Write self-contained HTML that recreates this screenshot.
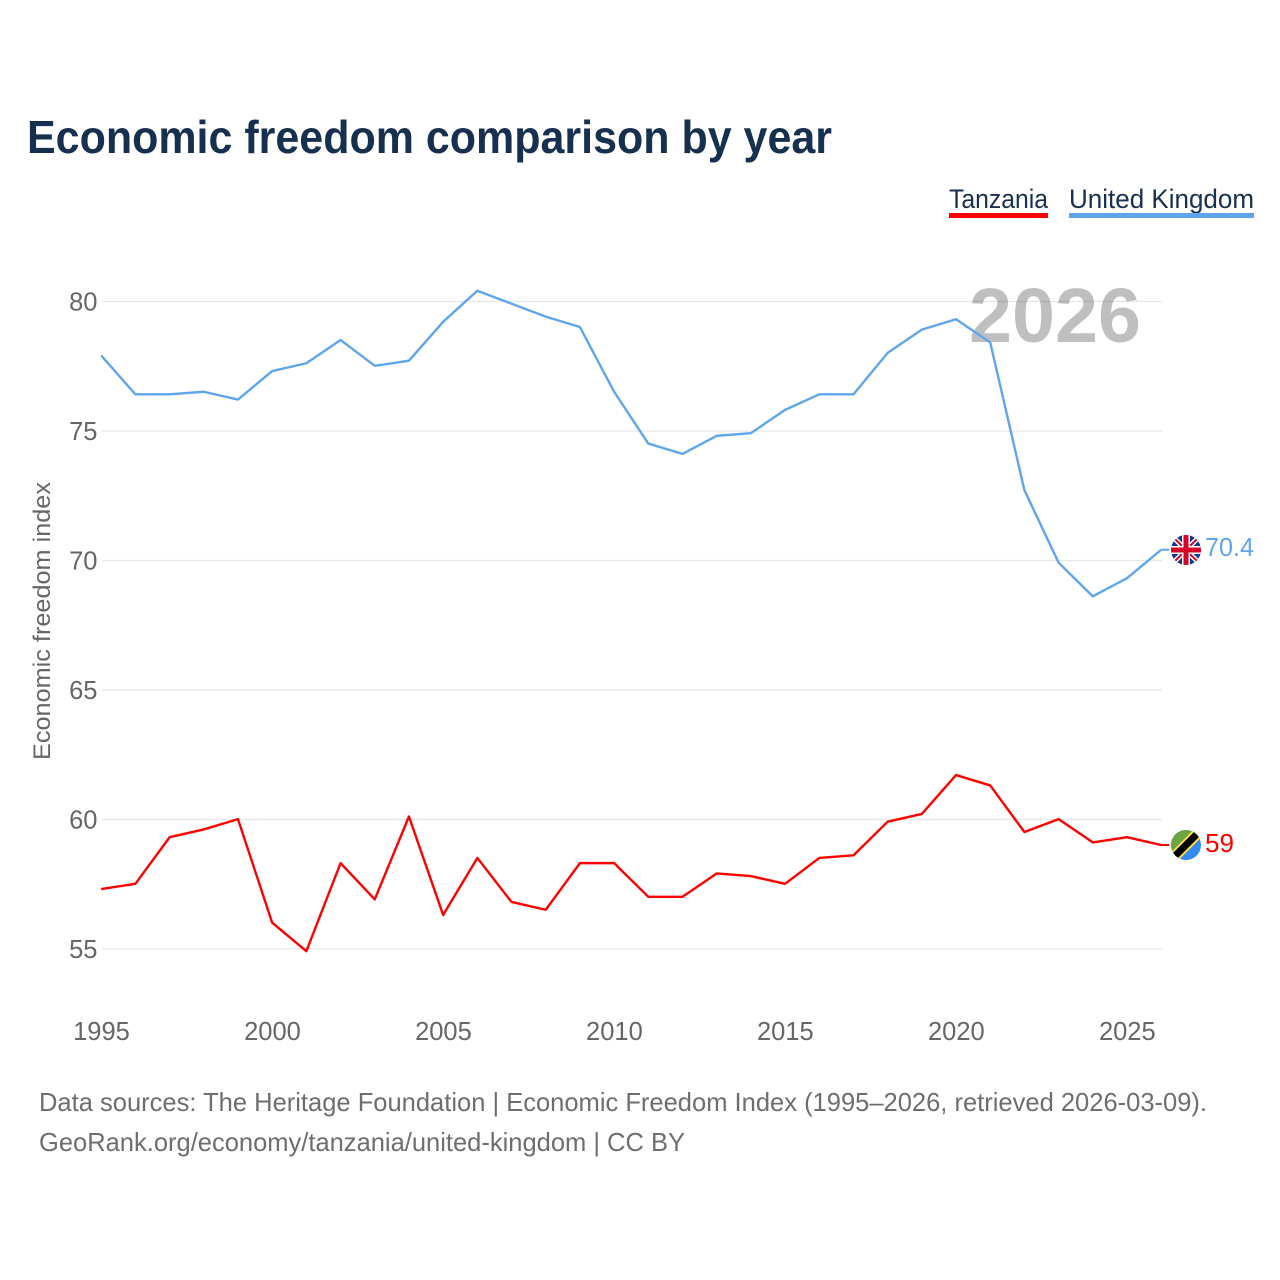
<!DOCTYPE html>
<html lang="en">
<head>
<meta charset="utf-8">
<title>Economic freedom comparison by year</title>
<style>
html,body{margin:0;padding:0;background:#fff;width:1280px;height:1280px;overflow:hidden}
svg{display:block}
text{font-family:"Liberation Sans",sans-serif}
</style>
</head>
<body>
<svg id="chart" width="1280" height="1280" viewBox="0 0 1280 1280" xmlns="http://www.w3.org/2000/svg">
  <rect width="1280" height="1280" fill="#fff"/>
  <text x="27" y="153" font-size="46" font-weight="700" fill="#18304f" textLength="805" lengthAdjust="spacingAndGlyphs">Economic freedom comparison by year</text>

  <g>
    <text x="949" y="208" font-size="27" fill="#18304f" textLength="99" lengthAdjust="spacingAndGlyphs">Tanzania</text>
    <rect x="949" y="213" width="99" height="5" fill="#ff0000"/>
  </g>
  <g>
    <text x="1069" y="208" font-size="27" fill="#18304f" textLength="185" lengthAdjust="spacingAndGlyphs">United Kingdom</text>
    <rect x="1069" y="213" width="185" height="5" fill="#5fa5ec"/>
  </g>

  <g id="grid"></g>
  <text x="1055" y="342" text-anchor="middle" font-size="77" font-weight="700" fill="#000" fill-opacity="0.25" textLength="172" lengthAdjust="spacingAndGlyphs">2026</text>
  <g id="yticks"></g>
  <g id="xticks"></g>
  <text transform="translate(50 621) rotate(-90)" text-anchor="middle" font-size="24" fill="#666" textLength="278" lengthAdjust="spacingAndGlyphs">Economic freedom index</text>
  <g id="series" transform="translate(-0.8 -0.4)"></g>

  <defs>
    <clipPath id="uk-clip"><circle cx="1186" cy="550" r="15"/></clipPath>
    <clipPath id="tz-clip"><circle cx="1186" cy="845" r="15"/></clipPath>
  </defs>
  <g id="uk-flag" clip-path="url(#uk-clip)">
    <rect x="1171" y="535" width="30" height="30" fill="#0a3a8c"/>
    <path d="M1171 535L1201 565M1201 535L1171 565" stroke="#fff" stroke-width="5"/>
    <path d="M1171 535L1201 565M1201 535L1171 565" stroke="#d80027" stroke-width="2"/>
    <path d="M1186 535V565M1171 550H1201" stroke="#fff" stroke-width="8"/>
    <path d="M1186 535V565M1171 550H1201" stroke="#d80027" stroke-width="5"/>
  </g>
  <g id="tz-flag" clip-path="url(#tz-clip)">
    <rect x="1171" y="830" width="30" height="30" fill="#338af3"/>
    <path d="M1171 830H1201L1171 860Z" fill="#6da544"/>
    <path d="M1171 860L1201 830" stroke="#ffda44" stroke-width="11"/>
    <path d="M1171 860L1201 830" stroke="#000" stroke-width="7"/>
  </g>
  <text x="1205" y="556" font-size="26" fill="#5fa5ec" textLength="49" lengthAdjust="spacingAndGlyphs">70.4</text>
  <text x="1205" y="852" font-size="26" fill="#ff0000" textLength="29" lengthAdjust="spacingAndGlyphs">59</text>

  <text x="39" y="1111" font-size="26" fill="#6e6e6e" textLength="1168" lengthAdjust="spacingAndGlyphs">Data sources: The Heritage Foundation | Economic Freedom Index (1995–2026, retrieved 2026-03-09).</text>
  <text x="39" y="1151" font-size="26" fill="#6e6e6e" textLength="646" lengthAdjust="spacingAndGlyphs">GeoRank.org/economy/tanzania/united-kingdom | CC BY</text>
</svg>
<script>
const years = [1995,1996,1997,1998,1999,2000,2001,2002,2003,2004,2005,2006,2007,2008,2009,2010,2011,2012,2013,2014,2015,2016,2017,2018,2019,2020,2021,2022,2023,2024,2025,2026];
const ukValues = [77.9,76.4,76.4,76.5,76.2,77.3,77.6,78.5,77.5,77.7,79.2,80.4,79.9,79.4,79.0,76.5,74.5,74.1,74.8,74.9,75.8,76.4,76.4,78.0,78.9,79.3,78.4,72.7,69.9,68.6,69.3,70.4];
const tzValues = [57.3,57.5,59.3,59.6,60.0,56.0,54.9,58.3,56.9,60.1,56.3,58.5,56.8,56.5,58.3,58.3,57.0,57.0,57.9,57.8,57.5,58.5,58.6,59.9,60.2,61.7,61.3,59.5,60.0,59.1,59.3,59.0];
const yTickValues = [55,60,65,70,75,80];
const xTickValues = [1995,2000,2005,2010,2015,2020,2025];

const NS = 'http://www.w3.org/2000/svg';
const xScale = y => 102 + (y - 1995) * (1162 - 102) / 31;
const yScale = v => 949 - (v - 55) * (949 - 301.5) / 25;

function make(tag, attrs, parent, text) {
  const el = document.createElementNS(NS, tag);
  for (const k in attrs) el.setAttribute(k, attrs[k]);
  if (text !== undefined) el.textContent = text;
  parent.appendChild(el);
  return el;
}

const grid = document.getElementById('grid');
const yticks = document.getElementById('yticks');
const xticks = document.getElementById('xticks');
const series = document.getElementById('series');

yTickValues.forEach(v => {
  const line = make('line', {x1: 102, x2: 1162, y1: yScale(v), y2: yScale(v), stroke: '#e6e6e6', 'stroke-width': 1.3}, grid);
  
  
  const label = make('text', {x: 97.5, y: yScale(v) + 9, 'text-anchor': 'end', 'font-size': 25.5, fill: '#666'}, yticks, String(v));
  
  
});

xTickValues.forEach(y => {
  const label = make('text', {x: xScale(y) - 0.5, y: 1040, 'text-anchor': 'middle', 'font-size': 25.5, fill: '#666'}, xticks, String(y));
  
  
});

const pointsOf = values => values.map((v, i) => xScale(years[i]).toFixed(2) + ',' + yScale(v).toFixed(2)).join(' ');

const tzLine = make('polyline', {points: pointsOf(tzValues), fill: 'none', stroke: '#ff0000', 'stroke-width': 2.4, 'stroke-linejoin': 'round'}, series);



const ukLine = make('polyline', {points: pointsOf(ukValues), fill: 'none', stroke: '#5fa5ec', 'stroke-width': 2.4, 'stroke-linejoin': 'round'}, series);



const ukLast = yScale(ukValues[ukValues.length - 1]);
const tzLast = yScale(tzValues[tzValues.length - 1]);
const ukStub = make('line', {x1: 1162, x2: 1170, y1: ukLast, y2: ukLast, stroke: '#5fa5ec', 'stroke-width': 2}, series);


const tzStub = make('line', {x1: 1162, x2: 1170, y1: tzLast, y2: tzLast, stroke: '#ff0000', 'stroke-width': 2}, series);


</script>
</body>
</html>
